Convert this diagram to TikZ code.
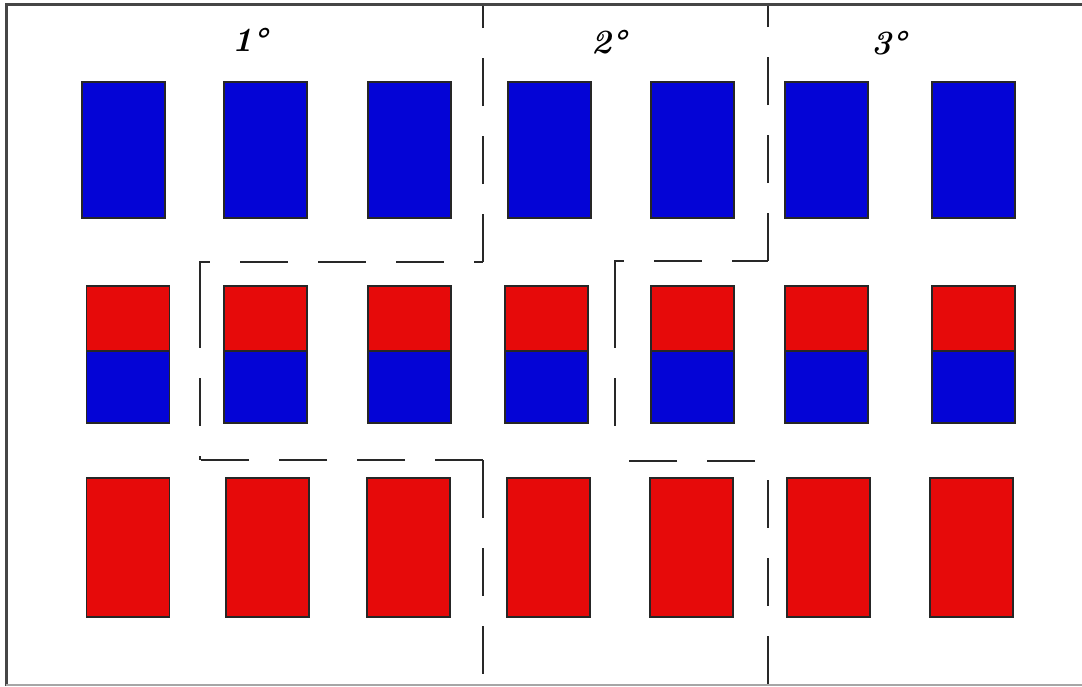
\documentclass[tikz,border=0pt]{standalone}
\usepackage{tikz}
\definecolor{boxblue}{RGB}{4,4,214}
\definecolor{boxred}{RGB}{230,10,10}
\definecolor{frame}{RGB}{70,70,70}
\definecolor{dashcol}{RGB}{40,40,40}
\tikzset{
  box/.style={draw=black!85, line width=1.3pt, inner sep=0pt, minimum width=83pt},
  bluebox/.style={box, fill=boxblue, minimum height=136pt},
  redbox/.style={box, fill=boxred, minimum height=139pt},
  halfred/.style={box, fill=boxred, minimum height=65pt},
  halfblue/.style={box, fill=boxblue, minimum height=72pt},
  border/.style={dashcol, line width=2pt, dash pattern=on 48pt off 30pt},
  lab/.style={font=\fontsize{34}{38}\selectfont\bfseries\itshape, inner sep=0pt}
}
\begin{document}
\begin{tikzpicture}[x=1pt,y=-1pt]
\useasboundingbox (0,0) rectangle (1082,686);
\fill[white] (0,0) rectangle (1082,686);
% frame
\draw[frame, line width=3pt] (1082,4) -- (6,4) -- (6,686);
\draw[black!35, line width=1.5pt] (6,685) -- (1082,685);
% top row
\foreach \x [count=\i] in {123.5,265.5,409.5,549.5,692.5,826.5,973.5}
  \node[bluebox] (t\i) at (\x,150) {};
% middle row
\foreach \x [count=\i] in {128,265.5,409.5,546.5,692.5,826.5,973.5}{
  \node[halfred] (mr\i) at (\x,318.5) {};
  \node[halfblue] (mb\i) at (\x,387) {};
}
% bottom row
\foreach \x [count=\i] in {128,267.5,408.5,548.5,691.5,828.5,971.5}
  \node[redbox] (b\i) at (\x,547.5) {};
% boundary between 1 and 2
\draw[border] (200,300) -- (200,262) -- (483,262);
\draw[border] (483,262) -- (483,6);
\draw[border] (200,300) -- (200,460);
\draw[border] (483,460) -- (198,460);
\draw[border] (483,470) -- (483,460);
\draw[border] (483,470) -- (483,686);
% boundary between 2 and 3
\draw[border] (615,300) -- (615,261) -- (768,261);
\draw[border] (768,261) -- (768,6);
\draw[border] (615,300) -- (615,440);
\draw[border] (755,461) -- (625,461);
\draw[border] (768,480) -- (768,686);
% labels
\node[lab] (l1) at (250,40) {1°};
\node[lab] (l2) at (609,42) {2°};
\node[lab] (l3) at (889,43) {3°};
\end{tikzpicture}
\end{document}
